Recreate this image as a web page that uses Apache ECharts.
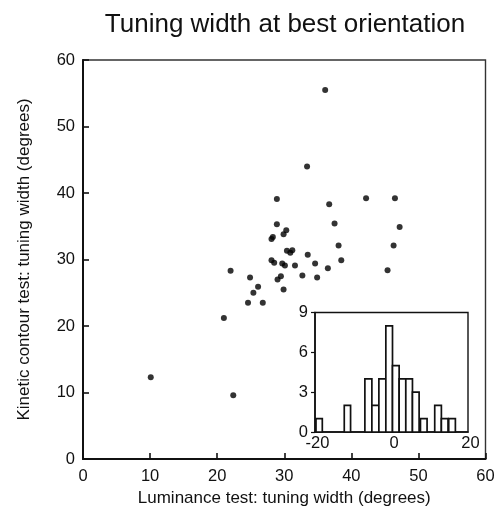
<!DOCTYPE html>
<html>
<head>
<meta charset="utf-8">
<script src="https://cdn.jsdelivr.net/npm/echarts@6/dist/echarts.min.js"></script>
<style>html,body{margin:0;padding:0;background:#fff}#c{width:498px;height:514px}</style>
</head>
<body>
<div id="c"></div>
<script>
// Scatter: luminance tuning width (x) vs kinetic contour tuning width (y), degrees
var lumX = [10.1, 21.0, 22.4, 22.0, 24.9, 26.1, 25.4, 24.6, 26.8, 28.1, 28.5, 29.7, 30.1, 31.6,
            29.5, 29.0, 29.9, 32.7, 34.9, 34.6, 36.5, 33.5, 30.4, 30.9, 31.2, 38.5, 38.1, 45.4,
            46.3, 47.2, 42.2, 46.5, 36.7, 37.5, 33.4, 36.1, 28.9, 28.9, 30.3, 29.9, 28.3, 28.1];
var kinY = [12.3, 21.2, 9.6, 28.3, 27.3, 25.9, 25.0, 23.5, 23.5, 29.9, 29.5, 29.4, 29.1, 29.1,
            27.5, 27.0, 25.5, 27.6, 27.3, 29.4, 28.7, 30.7, 31.3, 31.0, 31.4, 29.9, 32.1, 28.4,
            32.1, 34.9, 39.2, 39.2, 38.3, 35.4, 44.0, 55.5, 39.1, 35.3, 34.4, 33.8, 33.4, 33.1];
// Inset histogram: bin left edges, right edges (degrees) and counts
var binLeft  = [-19.74, -12.35, -6.96, -5.13, -3.30, -1.48, 0.26, 2.00, 3.74, 5.48, 7.57, 11.30, 13.04, 14.96];
var binRight = [-18.09, -10.70, -5.13, -3.30, -1.48, 0.26, 2.00, 3.74, 5.48, 7.22, 9.30, 13.04, 14.78, 16.70];
var binCounts = [1, 2, 4, 2, 4, 8, 5, 4, 4, 3, 1, 2, 1, 1];
var mainTicks = [0, 10, 20, 30, 40, 50, 60];
var insetYTicks = [0, 3, 6, 9];
var insetXTicks = [-20, 0, 20];

var FONT = 'Liberation Sans, Arial, Helvetica, sans-serif';
var INK = '#111';
var chart = echarts.init(document.getElementById('c'), null, {renderer: 'canvas'});
var scatterData = lumX.map(function (x, i) { return [x, kinY[i]]; });
var histData = binLeft.map(function (lo, i) { return [lo, binRight[i], binCounts[i]]; });

chart.setOption({
  animation: false,
  backgroundColor: '#fff',
  title: {
    text: 'Tuning width at best orientation',
    left: 280, textAlign: 'center', top: 7,
    textStyle: {fontFamily: FONT, fontSize: 26, fontWeight: 'normal', color: INK}
  },
  grid: [
    {left: 83, top: 60, width: 402.5, height: 399, show: true, borderColor: '#333', borderWidth: 1.4, backgroundColor: 'transparent'},
    {left: 315, top: 312.5, width: 153, height: 119.5, show: true, borderColor: INK, borderWidth: 1.4, backgroundColor: '#fff', z: 5}
  ],
  xAxis: [
    {
      type: 'value', gridIndex: 0, min: mainTicks[0], max: mainTicks[mainTicks.length - 1], interval: 10,
      name: 'Luminance test: tuning width (degrees)', nameLocation: 'middle', nameGap: 30,
      nameTextStyle: {fontFamily: FONT, fontSize: 17, color: INK},
      axisLine: {onZero: false, lineStyle: {color: INK, width: 2}},
      axisTick: {inside: true, length: 6, lineStyle: {color: INK, width: 1.6}},
      axisLabel: {fontFamily: FONT, fontSize: 16.5, color: INK, margin: 9},
      splitLine: {show: false}
    },
    {
      type: 'value', gridIndex: 1, min: insetXTicks[0], max: insetXTicks[insetXTicks.length - 1], interval: 20,
      axisLine: {onZero: false, lineStyle: {color: INK, width: 1.6}},
      axisTick: {show: false},
      axisLabel: {fontFamily: FONT, fontSize: 16.5, color: INK, margin: 3, padding: [0, 0, 0, 5]},
      splitLine: {show: false}, z: 6
    }
  ],
  yAxis: [
    {
      type: 'value', gridIndex: 0, min: 0, max: 60, interval: 10,
      name: 'Kinetic contour test: tuning width (degrees)', nameLocation: 'middle', nameGap: 50, nameRotate: 90,
      nameTextStyle: {fontFamily: FONT, fontSize: 17, color: INK},
      axisLine: {onZero: false, lineStyle: {color: INK, width: 2}},
      axisTick: {inside: true, length: 6, lineStyle: {color: INK, width: 1.6}},
      axisLabel: {fontFamily: FONT, fontSize: 16.5, color: INK, margin: 8},
      splitLine: {show: false}
    },
    {
      type: 'value', gridIndex: 1, min: insetYTicks[0], max: insetYTicks[insetYTicks.length - 1], interval: 3,
      axisLine: {onZero: false, lineStyle: {color: INK, width: 1.6}},
      axisTick: {inside: false, length: 4, lineStyle: {color: INK, width: 1.2}},
      axisLabel: {fontFamily: FONT, fontSize: 16.5, color: INK, margin: 7},
      splitLine: {show: false}, z: 6
    }
  ],
  series: [
    {
      type: 'scatter', xAxisIndex: 0, yAxisIndex: 0, data: scatterData,
      symbol: 'circle', symbolSize: 6, itemStyle: {color: '#000'}
    },
    {
      type: 'custom', xAxisIndex: 1, yAxisIndex: 1, data: histData, z: 7,
      encode: {x: [0, 1], y: 2},
      renderItem: function (params, api) {
        var p0 = api.coord([api.value(0), 0]);
        var p1 = api.coord([api.value(1), api.value(2)]);
        return {
          type: 'rect',
          shape: {x: p0[0], y: p1[1], width: p1[0] - p0[0], height: p0[1] - p1[1]},
          style: {fill: '#fff', stroke: INK, lineWidth: 1.7}
        };
      }
    }
  ]
});
</script>
</body>
</html>
